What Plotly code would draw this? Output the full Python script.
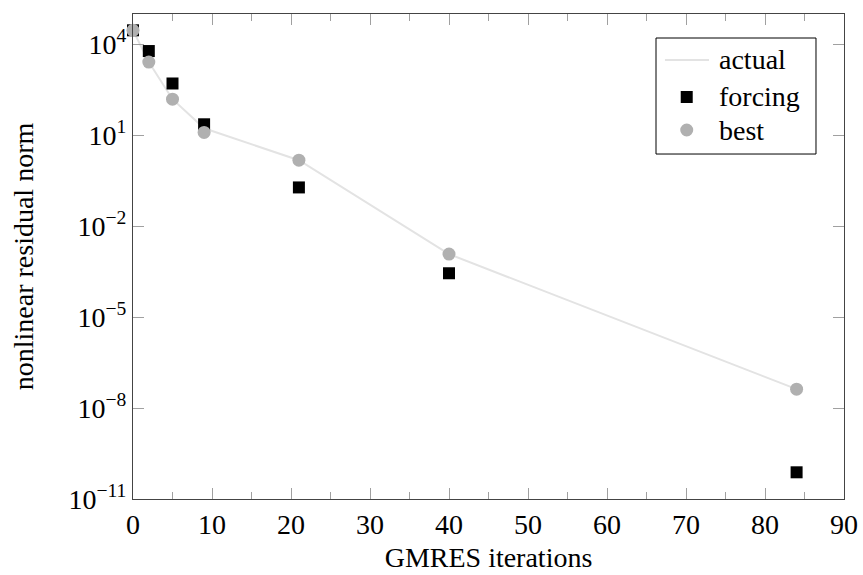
import plotly.graph_objects as go

iterations = [0, 2, 5, 9, 21, 40, 84]
actual = [2.9e4, 2.6e3, 155, 17, 1.5, 1.2e-3, 4.2e-8]
forcing = [2.9e4, 6.0e3, 5.1e2, 23, 0.19, 2.8e-4, 7.6e-11]
best = [2.9e4, 2.6e3, 155, 12.4, 1.5, 1.2e-3, 4.2e-8]
series_names = ["actual", "forcing", "best"]

x_ticks = [0, 10, 20, 30, 40, 50, 60, 70, 80, 90]
y_exps = [-11, -8, -5, -2, 1, 4]
y_tickvals = [10.0 ** e for e in y_exps]
y_ticktext = ["10<sup>%s</sup>" % (str(e).replace("-", "\u2212")) for e in y_exps]

FONT = "Liberation Serif"
FS = 28
LINE_C = "#e3e3e3"
SQ_C = "black"
CIR_C = "#b0b0b0"

fig = go.Figure()
fig.add_trace(go.Scatter(x=iterations, y=actual, mode="lines", name=series_names[0],
                         line=dict(color=LINE_C, width=2), showlegend=False))
fig.add_trace(go.Scatter(x=iterations, y=forcing, mode="markers", name=series_names[1],
                         marker=dict(symbol="square", size=12, color=SQ_C),
                         cliponaxis=False, showlegend=False))
fig.add_trace(go.Scatter(x=iterations, y=best, mode="markers", name=series_names[2],
                         marker=dict(symbol="circle", size=13, color=CIR_C),
                         cliponaxis=False, showlegend=False))

# Legend (box, symbols, labels) in paper coordinates
leg_box = dict(x0=0.7356, x1=0.9606, y0=0.7113, y1=0.9505)
sym_x = 0.7788
text_x = 0.8214
row_y = [0.9052, 0.8289, 0.7608]

shapes = [
    dict(type="rect", xref="paper", yref="paper", layer="above",
         fillcolor="white", line=dict(color="black", width=1), **leg_box),
    dict(type="line", xref="paper", yref="paper", layer="above",
         x0=0.7482, x1=0.8101, y0=row_y[0], y1=row_y[0],
         line=dict(color=LINE_C, width=2)),
    dict(type="rect", xref="paper", yref="paper", layer="above",
         xsizemode="pixel", ysizemode="pixel", xanchor=sym_x, yanchor=row_y[1],
         x0=-6, x1=6, y0=-6, y1=6, fillcolor=SQ_C, line=dict(width=0)),
    dict(type="circle", xref="paper", yref="paper", layer="above",
         xsizemode="pixel", ysizemode="pixel", xanchor=sym_x, yanchor=row_y[2],
         x0=-6.5, x1=6.5, y0=-6.5, y1=6.5, fillcolor=CIR_C, line=dict(width=0)),
]
annotations = [
    dict(text=n, xref="paper", yref="paper", x=text_x, y=yy, xanchor="left",
         yanchor="middle", showarrow=False, font=dict(family=FONT, size=FS, color="black"))
    for n, yy in zip(series_names, row_y)
]

fig.update_layout(
    width=863, height=575,
    margin=dict(l=133, r=19, t=14, b=76),
    paper_bgcolor="white", plot_bgcolor="white",
    font=dict(family=FONT, size=FS, color="black"),
    showlegend=False,
    shapes=shapes,
    annotations=annotations,
)
fig.update_xaxes(
    range=[0, 90], tickvals=x_ticks, ticks="inside", ticklen=11, tickcolor="#a0a0a0",
    showline=True, linecolor="#444", linewidth=1, mirror="ticks", showgrid=False,
    zeroline=False, tickfont=dict(family=FONT, size=FS), automargin=False,
    minor=dict(dtick=5, ticks="inside", ticklen=7, tickcolor="#a0a0a0", showgrid=False),
    title=dict(text="GMRES iterations", font=dict(family=FONT, size=FS), standoff=8),
)
fig.update_yaxes(
    type="log", range=[-11, 5], tickvals=y_tickvals, ticktext=y_ticktext,
    ticks="inside", ticklen=11, tickcolor="#a0a0a0",
    showline=True, linecolor="#444", linewidth=1, mirror="ticks", showgrid=False,
    zeroline=False, tickfont=dict(family=FONT, size=FS), automargin=False,
    title=dict(text="nonlinear residual norm", font=dict(family=FONT, size=FS), standoff=26),
)

fig.write_html("out.html")
